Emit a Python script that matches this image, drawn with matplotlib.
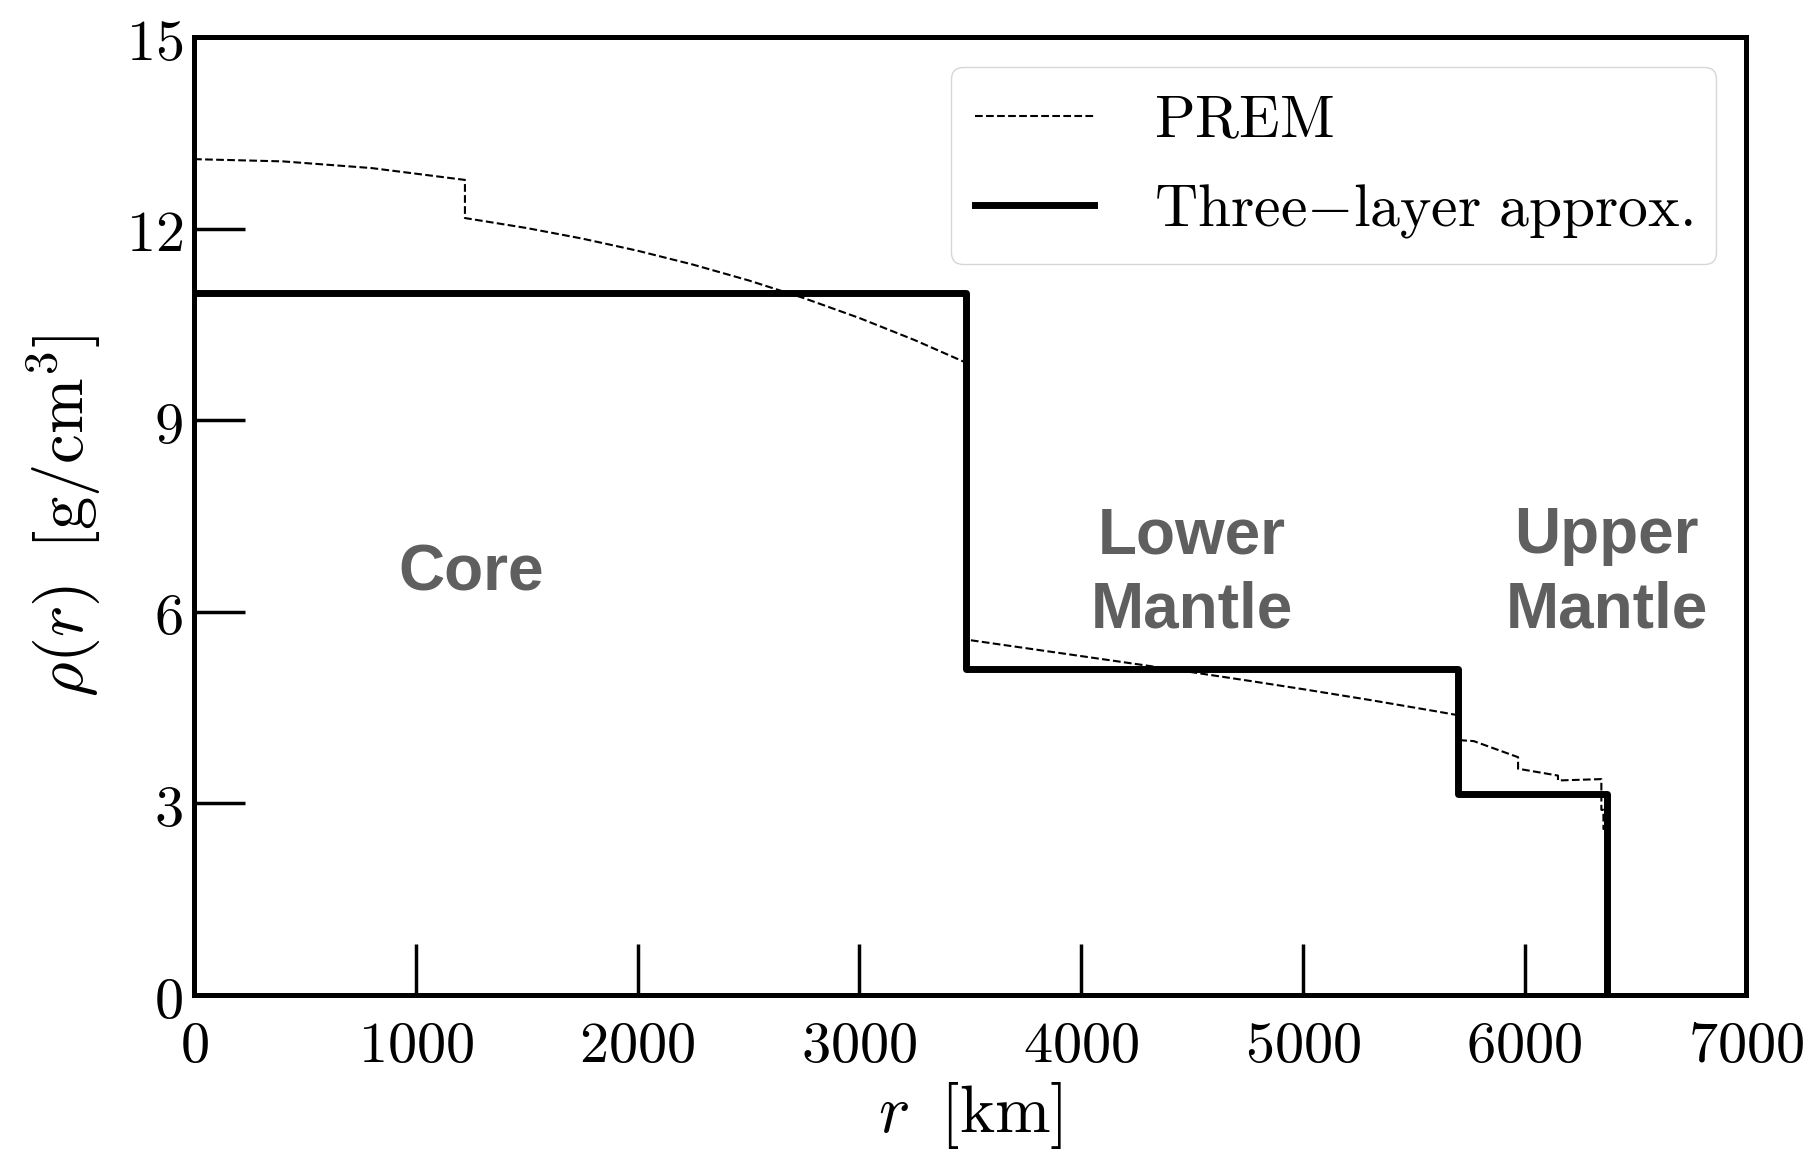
import matplotlib
matplotlib.use("Agg")
import matplotlib.pyplot as plt

plt.rcParams['mathtext.fontset'] = 'cm'

# PREM density profile, tabulated (radius in km, density in g/cm^3)
prem_r = [0, 400, 800, 1221.5,
          1221.5, 1500, 1750, 2000, 2250, 2500, 2750, 3000, 3250, 3480,
          3480, 3630, 4000, 4250, 4500, 4750, 5000, 5300, 5600, 5701,
          5701, 5771, 5971,
          5971, 6151,
          6151, 6346.6,
          6346.6, 6356, 6356, 6368, 6368, 6371]
prem_rho = [13.0885, 13.0537, 12.9491, 12.7636,
            12.1663, 12.0100, 11.8450, 11.6548, 11.4374, 11.1907, 10.9127, 10.6015, 10.2550, 9.9035,
            5.5665, 5.4915, 5.3073, 5.1819, 5.0547, 4.9243, 4.7898, 4.6213, 4.4431, 4.3807,
            3.9921, 3.9758, 3.7237,
            3.5432, 3.4358,
            3.3595, 3.3807,
            2.900, 2.900, 2.600, 2.600, 1.020, 1.020]

# three-layer model: layer boundaries and constant densities
layer_edges = [0, 3480, 5701, 6371]
layer_rho = [11.0, 5.1, 3.14]

layer_names = ["Core", "Lower\nMantle", "Upper\nMantle"]
label_r = [1250, 4500, 6370]
label_rho = [6.6, 6.6, 6.6]

xticks = [0, 1000, 2000, 3000, 4000, 5000, 6000, 7000]
yticks = [0, 3, 6, 9, 12, 15]

# build the step outline of the three-layer model
step_r = []
step_rho = []
for i, rho in enumerate(layer_rho):
    step_r += [layer_edges[i], layer_edges[i + 1]]
    step_rho += [rho, rho]
step_r.append(layer_edges[-1])
step_rho.append(0)

fig = plt.figure(figsize=(18.19, 11.59), dpi=100)
ax = fig.add_axes([0.1067, 0.1415, 0.8533, 0.8265])

ax.plot(prem_r, prem_rho, 'k--', lw=1.5, label=r'$\mathrm{PREM}$')
ax.plot(step_r, step_rho, 'k-', lw=5, label=r'$\mathrm{Three{-}layer\ approx.}$')

for name, x, y in zip(layer_names, label_r, label_rho):
    ax.text(x, y, name, ha='center', va='center', fontsize=46, fontweight='bold',
            color='#5f5f5f', family='Liberation Sans', linespacing=1.3)

ax.set_xlim(0, 7000)
ax.set_ylim(0, 15)
ax.set_xticks(xticks, labels=[f'${t}$' for t in xticks])
ax.set_yticks(yticks, labels=[f'${t}$' for t in yticks])
ax.tick_params(direction='in', length=37, width=2.5, labelsize=42)
ax.tick_params(axis='x', pad=16)
ax.tick_params(axis='y', pad=8)

for s in ax.spines.values():
    s.set_linewidth(3.6)

ax.set_xlabel(r'$r\;\;[\mathrm{km}]$', fontsize=48, labelpad=4)
ax.set_ylabel(r'$\rho(r)\;\;[\mathrm{g/cm^3}]$', fontsize=48, labelpad=16)

ax.legend(loc='upper right', fontsize=43, borderaxespad=0.5, handlelength=2.0,
          handletextpad=1.0)

fig.savefig("out.png", dpi=100)
